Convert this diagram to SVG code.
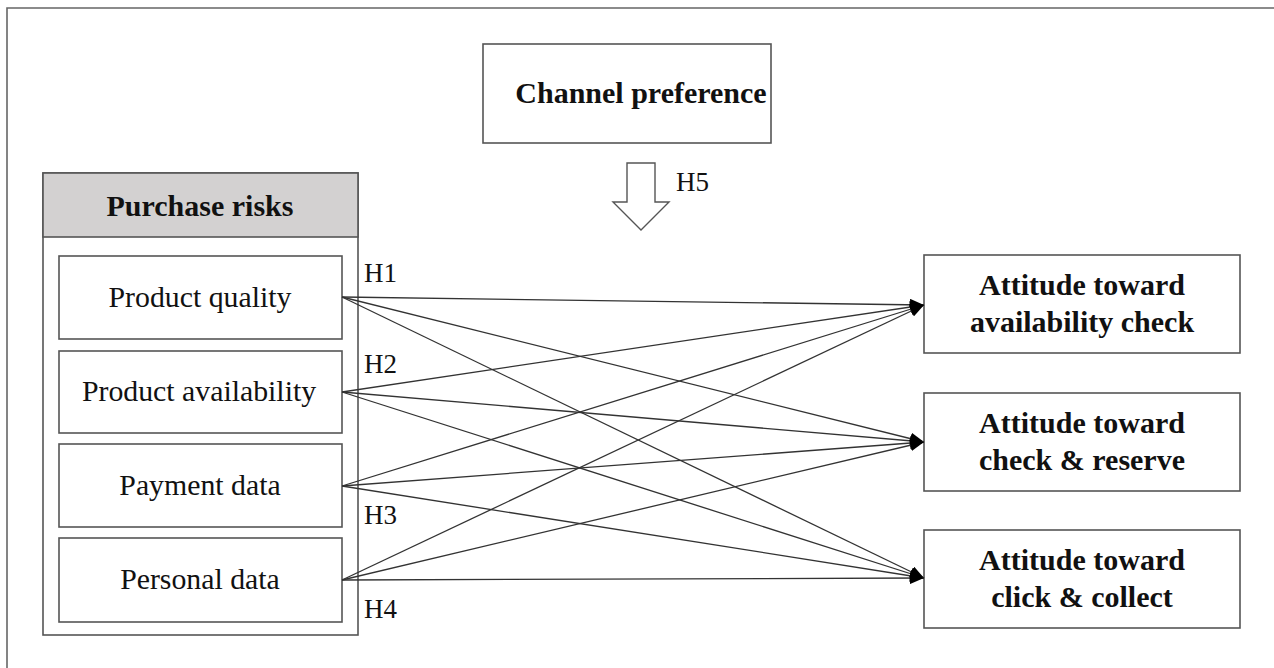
<svg xmlns="http://www.w3.org/2000/svg" width="1274" height="668" viewBox="0 0 1274 668">
<defs>
<marker id="ah" viewBox="0 0 14 12" refX="14" refY="6" markerWidth="14" markerHeight="12" markerUnits="userSpaceOnUse" orient="auto">
<path d="M0,0 L14,6 L0,12 z" fill="#000"/>
</marker>
<style>
.box{fill:#fff;stroke:#555;stroke-width:1.6}
.hdr{fill:#d3d1d1;stroke:#555;stroke-width:1.6}
.t{font-family:"Liberation Serif","Times New Roman",serif;font-size:29.8px;fill:#111;text-anchor:middle}
.b{font-family:"Liberation Serif","Times New Roman",serif;font-size:30px;font-weight:bold;fill:#111;text-anchor:middle}
.h{font-family:"Liberation Serif","Times New Roman",serif;font-size:27px;fill:#111}
.c{stroke:#333;stroke-width:1.3;fill:none;marker-end:url(#ah)}
</style>
</defs>
<rect width="1274" height="668" fill="#fff"/>
<g id="frame" stroke="#666" stroke-width="1.6" fill="none">
<path d="M7,668 L7,8 L1274,8"/>
</g>
<g id="channel">
<rect class="box" x="483" y="44" width="288" height="99"/>
<text class="b" x="641" y="103">Channel preference</text>
</g>
<g id="h5arrow">
<path d="M627,163 L655,163 L655,202 L669,202 L641,230 L613,202 L627,202 Z" fill="#fff" stroke="#555" stroke-width="1.4"/>
<text class="h" x="676" y="191">H5</text>
</g>
<g id="purchase-risks">
<rect class="box" x="43" y="173" width="315" height="462"/>
<rect class="hdr" x="43" y="173" width="315" height="64"/>
<text class="b" x="200" y="216">Purchase risks</text>
</g>
<g id="product-quality">
<rect class="box" x="59" y="256" width="283" height="83"/>
<text class="t" x="200" y="307">Product quality</text>
</g>
<g id="product-availability">
<rect class="box" x="59" y="351" width="283" height="82"/>
<text class="t" x="199" y="401">Product availability</text>
</g>
<g id="payment-data">
<rect class="box" x="59" y="444" width="283" height="83"/>
<text class="t" x="200" y="495">Payment data</text>
</g>
<g id="personal-data">
<rect class="box" x="59" y="538" width="283" height="84"/>
<text class="t" x="200" y="589">Personal data</text>
</g>
<g id="att-availability">
<rect class="box" x="924" y="255" width="316" height="98"/>
<text class="b" x="1082" y="295">Attitude toward</text>
<text class="b" x="1082" y="332">availability check</text>
</g>
<g id="att-check-reserve">
<rect class="box" x="924" y="393" width="316" height="98"/>
<text class="b" x="1082" y="433">Attitude toward</text>
<text class="b" x="1082" y="470">check &amp; reserve</text>
</g>
<g id="att-click-collect">
<rect class="box" x="924" y="530" width="316" height="98"/>
<text class="b" x="1082" y="570">Attitude toward</text>
<text class="b" x="1082" y="607">click &amp; collect</text>
</g>
<g id="connectors">
<line class="c" x1="342" y1="297" x2="924" y2="305"/>
<line class="c" x1="342" y1="297" x2="924" y2="442"/>
<line class="c" x1="342" y1="297" x2="924" y2="578"/>
<line class="c" x1="342" y1="392" x2="924" y2="305"/>
<line class="c" x1="342" y1="392" x2="924" y2="442"/>
<line class="c" x1="342" y1="392" x2="924" y2="578"/>
<line class="c" x1="342" y1="486" x2="924" y2="305"/>
<line class="c" x1="342" y1="486" x2="924" y2="442"/>
<line class="c" x1="342" y1="486" x2="924" y2="578"/>
<line class="c" x1="342" y1="580" x2="924" y2="305"/>
<line class="c" x1="342" y1="580" x2="924" y2="442"/>
<line class="c" x1="342" y1="580" x2="924" y2="578"/>
</g>
<g id="labels">
<text class="h" x="364" y="282">H1</text>
<text class="h" x="364" y="373">H2</text>
<text class="h" x="364" y="524">H3</text>
<text class="h" x="364" y="618">H4</text>
</g>
</svg>
